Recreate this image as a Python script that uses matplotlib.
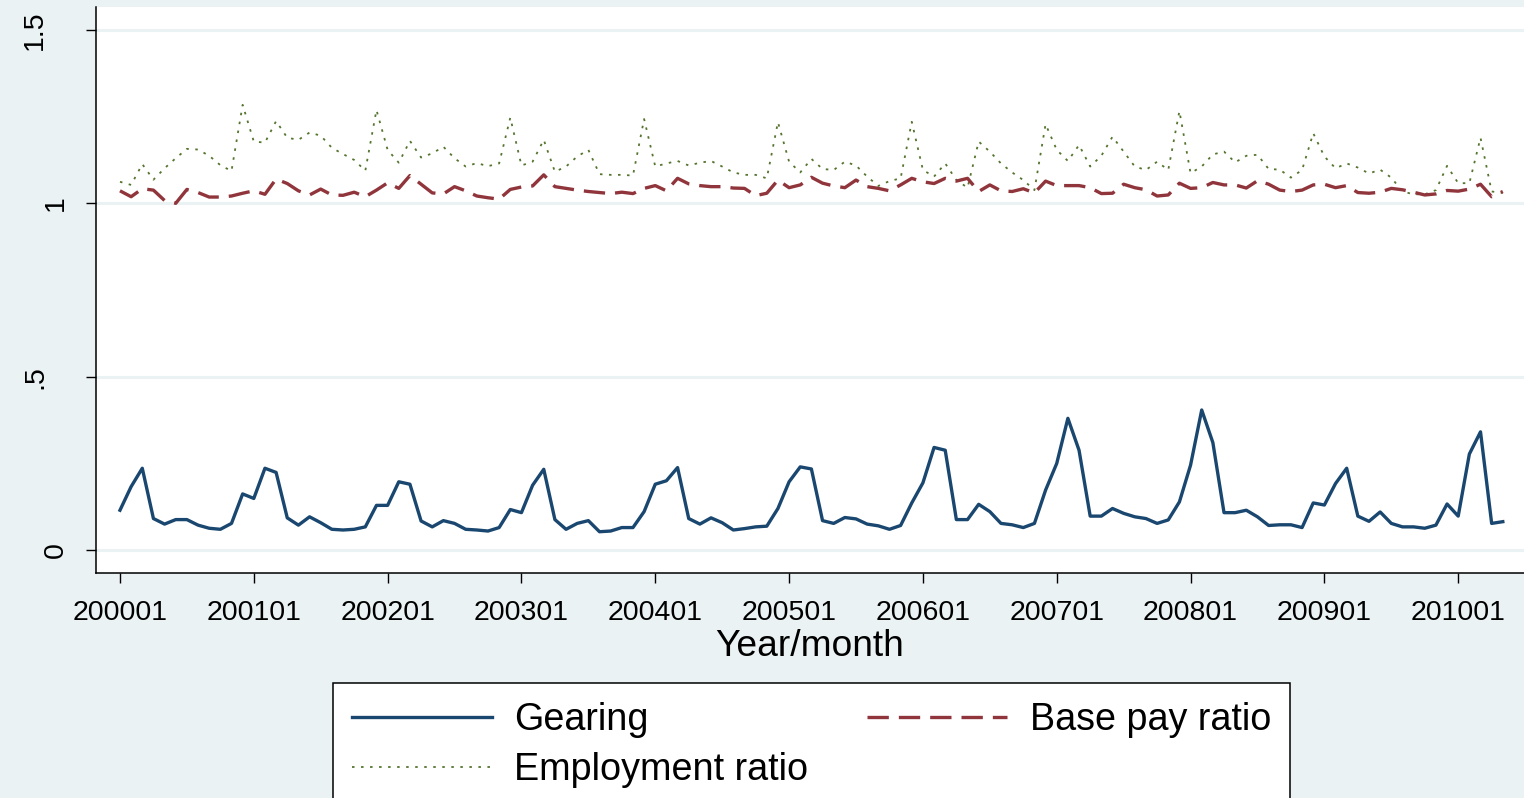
import matplotlib
matplotlib.use('Agg')
import matplotlib.pyplot as plt
import numpy as np

# 数据: 2000年1月到2010年5月，每月一个点
years = list(range(2000, 2011))
months = [f'{y}{m:02d}' for y in years for m in range(1, 13)][:125]

gearing = [
    0.115, 0.183, 0.236, 0.091, 0.075, 0.088, 0.088, 0.072, 0.063, 0.060,
    0.077, 0.162, 0.149, 0.236, 0.224, 0.093, 0.072, 0.096, 0.079, 0.060,
    0.058, 0.060, 0.067, 0.129, 0.129, 0.197, 0.190, 0.084, 0.067, 0.085,
    0.077, 0.060, 0.058, 0.055, 0.065, 0.117, 0.108, 0.187, 0.233, 0.088,
    0.060, 0.077, 0.085, 0.053, 0.055, 0.065, 0.065, 0.111, 0.190, 0.200,
    0.238, 0.091, 0.075, 0.093, 0.079, 0.058, 0.062, 0.067, 0.069, 0.120,
    0.197, 0.240, 0.234, 0.085, 0.077, 0.094, 0.090, 0.075, 0.070, 0.060,
    0.071, 0.136, 0.194, 0.296, 0.288, 0.088, 0.088, 0.132, 0.111, 0.077,
    0.073, 0.065, 0.077, 0.173, 0.250, 0.380, 0.288, 0.098, 0.098, 0.120,
    0.106, 0.096, 0.091, 0.077, 0.087, 0.139, 0.245, 0.404, 0.310, 0.108,
    0.108, 0.115, 0.096, 0.071, 0.073, 0.073, 0.065, 0.136, 0.130, 0.192,
    0.236, 0.098, 0.083, 0.110, 0.077, 0.067, 0.067, 0.063, 0.072, 0.133,
    0.098, 0.277, 0.341, 0.077, 0.082,
]

base_pay = [
    1.036, 1.019, 1.042, 1.038, 1.008, 1.000, 1.040, 1.031, 1.018, 1.018,
    1.021, 1.029, 1.036, 1.026, 1.070, 1.057, 1.036, 1.024, 1.041, 1.024,
    1.023, 1.032, 1.019, 1.038, 1.059, 1.043, 1.080, 1.055, 1.030, 1.027,
    1.048, 1.036, 1.021, 1.016, 1.012, 1.040, 1.047, 1.050, 1.082, 1.048,
    1.043, 1.038, 1.034, 1.031, 1.028, 1.032, 1.028, 1.043, 1.051, 1.036,
    1.072, 1.056, 1.051, 1.048, 1.048, 1.044, 1.043, 1.022, 1.029, 1.067,
    1.045, 1.053, 1.075, 1.058, 1.050, 1.045, 1.067, 1.048, 1.043, 1.036,
    1.053, 1.072, 1.062, 1.057, 1.072, 1.064, 1.072, 1.034, 1.053, 1.036,
    1.034, 1.042, 1.030, 1.064, 1.051, 1.051, 1.051, 1.045, 1.028, 1.029,
    1.055, 1.045, 1.039, 1.021, 1.024, 1.058, 1.043, 1.045, 1.060, 1.053,
    1.053, 1.044, 1.065, 1.055, 1.038, 1.034, 1.038, 1.053, 1.055, 1.045,
    1.051, 1.031, 1.029, 1.032, 1.043, 1.039, 1.032, 1.024, 1.027, 1.037,
    1.035, 1.041, 1.055, 1.019, 1.034,
]

employment = [
    1.062, 1.053, 1.113, 1.068, 1.101, 1.130, 1.157, 1.155, 1.137, 1.110,
    1.093, 1.284, 1.178, 1.175, 1.237, 1.189, 1.183, 1.204, 1.195, 1.160,
    1.142, 1.125, 1.094, 1.269, 1.154, 1.117, 1.180, 1.132, 1.144, 1.163,
    1.130, 1.106, 1.116, 1.107, 1.115, 1.247, 1.109, 1.120, 1.183, 1.091,
    1.106, 1.135, 1.154, 1.084, 1.082, 1.082, 1.080, 1.243, 1.106, 1.115,
    1.122, 1.109, 1.117, 1.122, 1.106, 1.089, 1.082, 1.082, 1.072, 1.234,
    1.120, 1.089, 1.128, 1.099, 1.096, 1.120, 1.109, 1.077, 1.050, 1.064,
    1.072, 1.235, 1.096, 1.077, 1.115, 1.067, 1.045, 1.178, 1.149, 1.115,
    1.089, 1.067, 1.038, 1.228, 1.154, 1.122, 1.168, 1.106, 1.137, 1.192,
    1.149, 1.106, 1.096, 1.120, 1.096, 1.266, 1.087, 1.106, 1.141, 1.149,
    1.118, 1.137, 1.140, 1.099, 1.097, 1.074, 1.096, 1.202, 1.135, 1.101,
    1.115, 1.103, 1.086, 1.097, 1.074, 1.034, 1.026, 1.026, 1.038, 1.108,
    1.058, 1.058, 1.189, 1.034, 1.030,
]

y_ticks = [0, 0.5, 1, 1.5]
y_tick_labels = ['0', '.5', '1', '1.5']

# Stata s2color 风格配色
BG = '#EAF2F3'
NAVY = '#1A476F'
MAROON = '#90353B'
GREEN = '#55752F'

plt.rcParams['font.family'] = ['Liberation Sans', 'DejaVu Sans']

fig = plt.figure(figsize=(15.24, 7.98), dpi=100, facecolor=BG)
ax = fig.add_axes([96 / 1524, 225 / 798, 1428 / 1524, 566 / 798])
ax.set_facecolor('white')

x = np.arange(len(months))
ax.plot(x, gearing, color=NAVY, lw=2.4, label='Gearing', zorder=3)
ax.plot(x, employment, color=GREEN, lw=1.3, linestyle=(0, (1.4, 3.6)),
        label='Employment ratio', zorder=3)
ax.plot(x, base_pay, color=MAROON, lw=2.4, linestyle=(0, (6.4, 3.0)),
        label='Base pay ratio', zorder=3)

ax.set_xlim(-2.15, 125.9)
ax.set_ylim(-0.066, 1.566)

tick_pos = x[::12]
ax.set_xticks(tick_pos)
ax.set_xticklabels([months[i] for i in tick_pos])
ax.set_yticks(y_ticks)
ax.set_yticklabels(y_tick_labels, rotation=90, va='center')

ax.tick_params(axis='both', length=7.5, width=1.0, color='black',
               labelsize=20.5, direction='out')
ax.tick_params(axis='x', pad=12)
ax.tick_params(axis='y', pad=12)

# 带小数点的标签在原图里更靠左
for tick, lab in zip(ax.yaxis.get_major_ticks(), y_tick_labels):
    if '.' in lab:
        tick.set_pad(27)

# 网格线
ax.grid(axis='y', color=BG, lw=2.2, zorder=0)
ax.set_axisbelow(True)

for side in ['top', 'right']:
    ax.spines[side].set_visible(False)
for side in ['left', 'bottom']:
    ax.spines[side].set_color('black')
    ax.spines[side].set_linewidth(1.1)

ax.set_xlabel('Year/month', fontsize=26.7, labelpad=2)

leg = fig.legend(loc='upper center', bbox_to_anchor=(811.5 / 1524, 115 / 798),
                 ncol=2, fontsize=27.2, frameon=True, fancybox=False,
                 edgecolor='black', framealpha=1, handlelength=3.7,
                 handletextpad=0.6, columnspacing=1.55, borderpad=0.5,
                 labelspacing=0.38, borderaxespad=0)
leg.get_frame().set_linewidth(1.1)

fig.savefig('out.png', dpi=100, facecolor=BG)
